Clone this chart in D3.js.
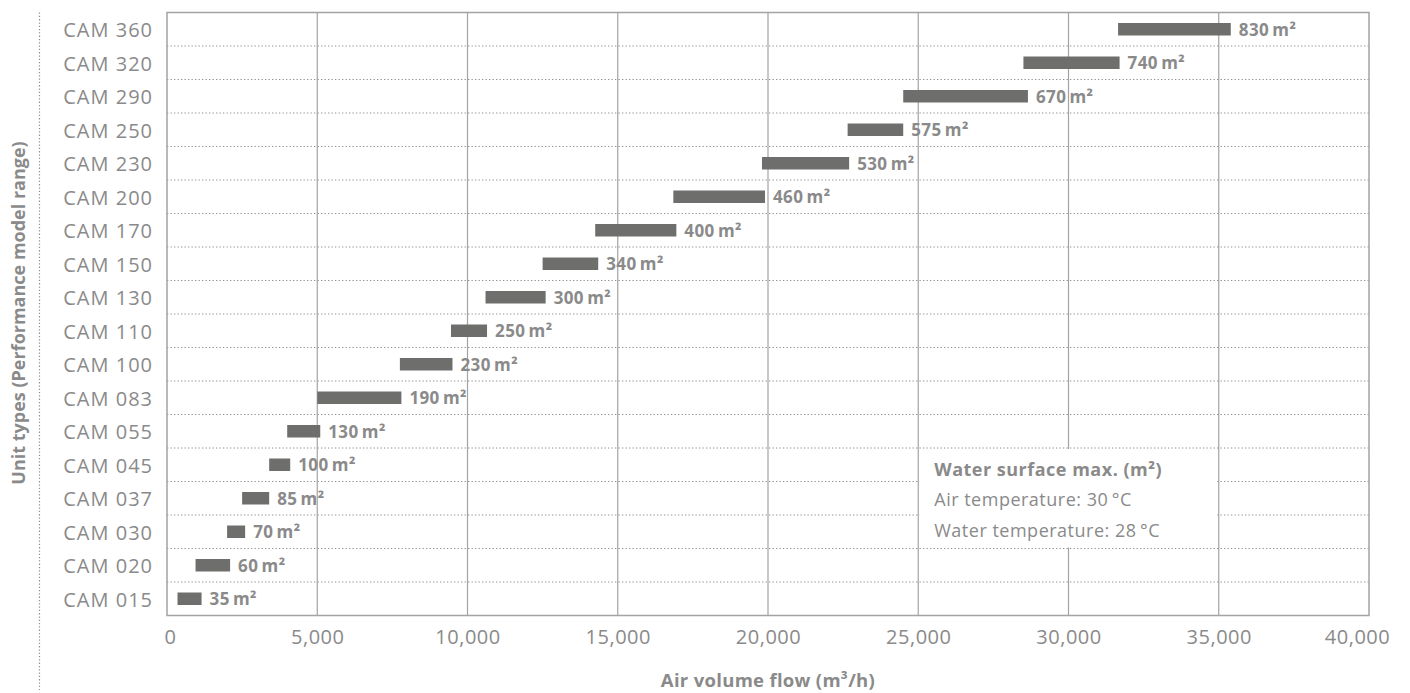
<!DOCTYPE html>
<html>
<head>
<meta charset="utf-8">
<script src="https://cdn.jsdelivr.net/npm/d3@7"></script>
<style>
  body { margin: 0; background: #fff; }
  svg text { font-family: "Open Sans", "Noto Sans", sans-serif; }
</style>
</head>
<body>
<div id="chart"></div>
<script>
// unit types, top to bottom as drawn
var categories = ["CAM 360", "CAM 320", "CAM 290", "CAM 250", "CAM 230", "CAM 200",
  "CAM 170", "CAM 150", "CAM 130", "CAM 110", "CAM 100", "CAM 083",
  "CAM 055", "CAM 045", "CAM 037", "CAM 030", "CAM 020", "CAM 015"];
// air volume flow range (m3/h), start and end of each bar
var flowMin = [31650, 28500, 24500, 22650, 19800, 16850, 14250, 12500, 10600, 9450, 7750, 5000,
  4000, 3400, 2500, 2000, 950, 350];
var flowMax = [35400, 31700, 28650, 24500, 22700, 19900, 16950, 14350, 12600, 10650, 9500, 7800,
  5100, 4100, 3400, 2600, 2100, 1150];
// max water surface (m2)
var surfaces = [830, 740, 670, 575, 530, 460, 400, 340, 300, 250, 230, 190, 130, 100, 85, 70, 60, 35];
var xTicks = [0, 5000, 10000, 15000, 20000, 25000, 30000, 35000, 40000];
var legendLines = ["Water surface max. (m\u00b2)", "Air temperature: 30\u2009\u00b0C", "Water temperature: 28\u2009\u00b0C"];

var data = categories.map(function(c, i) {
  return {cat: c, lo: flowMin[i], hi: flowMax[i], area: surfaces[i]};
});

// set the dimensions and margins of the graph
var margin = {top: 12.5, right: 41, bottom: 77.5, left: 167},
    width = 1410 - margin.left - margin.right,
    height = 693 - margin.top - margin.bottom;

var textGray = "#8a8a8a",
    gridGray = "#a3a3a3",
    barGray = "#6e6e6d";

var root = d3.select("#chart")
  .append("svg")
    .attr("width", 1410)
    .attr("height", 693);

var svg = root.append("g")
    .attr("transform", "translate(" + margin.left + "," + margin.top + ")");

var x = d3.scaleLinear()
  .domain([0, 40000])
  .range([0, width]);

var y = d3.scaleBand()
  .domain(categories)
  .range([0, height]);

var step = y.step();
var barH = 12.5;

// vertical grid lines
svg.append("g")
  .selectAll("line")
  .data(xTicks.slice(1, -1))
  .enter()
  .append("line")
    .attr("x1", function(d) { return x(d); })
    .attr("x2", function(d) { return x(d); })
    .attr("y1", 0)
    .attr("y2", height)
    .style("stroke", gridGray)
    .style("stroke-width", 1.2);

// dotted row separators
svg.append("g")
  .selectAll("line")
  .data(categories.slice(1))
  .enter()
  .append("line")
    .attr("x1", 0)
    .attr("x2", width)
    .attr("y1", function(d) { return y(d); })
    .attr("y2", function(d) { return y(d); })
    .style("stroke", "#8e8e8e")
    .style("stroke-width", 1)
    .style("stroke-dasharray", "1.3,2.2");

// legend box (white, hides grid behind it)
var boxTop = y("CAM 045"), boxBottom = y("CAM 020");
svg.append("rect")
  .attr("x", x(25000) + 1)
  .attr("y", boxTop + 1)
  .attr("width", x(35000) - x(25000) - 2.5)
  .attr("height", boxBottom - boxTop - 2)
  .style("fill", "#fff");

svg.append("g")
  .selectAll("text")
  .data(legendLines)
  .enter()
  .append("text")
    .attr("x", x(25000) + 16)
    .attr("y", function(d, i) { return boxTop + 27.5 + i * 30.5; })
    .style("font-size", "18px")
    .style("letter-spacing", "0.5px")
    .style("font-weight", function(d, i) { return i == 0 ? "700" : "400"; })
    .style("fill", textGray)
    .text(function(d) { return d; });

// plot border
svg.append("rect")
  .attr("width", width)
  .attr("height", height)
  .style("fill", "none")
  .style("stroke", gridGray)
  .style("stroke-width", 1.5);

// bars
svg.append("g")
  .selectAll("rect")
  .data(data)
  .enter()
  .append("rect")
    .attr("x", function(d) { return x(d.lo); })
    .attr("y", function(d) { return y(d.cat) + step / 2 - barH / 2; })
    .attr("width", function(d) { return x(d.hi) - x(d.lo); })
    .attr("height", barH)
    .style("fill", barGray);

// bar labels
svg.append("g")
  .selectAll("text")
  .data(data)
  .enter()
  .append("text")
    .attr("x", function(d) { return x(d.hi) + 8; })
    .attr("y", function(d) { return y(d.cat) + step / 2 + 6.5; })
    .style("font-size", "17px")
    .style("letter-spacing", "0.4px")
    .style("font-weight", "700")
    .style("fill", textGray)
    .text(function(d) { return d.area + "\u2009m\u00b2"; });

// Y axis (category names)
var yAxis = svg.append("g")
  .call(d3.axisLeft(y).tickSize(0).tickPadding(14));
yAxis.select(".domain").remove();
yAxis.selectAll("text")
  .attr("dy", "0.4em")
  .style("font-size", "20px")
  .style("letter-spacing", "1px")
  .style("fill", textGray);

// X axis labels
var xAxis = svg.append("g")
  .attr("transform", "translate(0," + height + ")")
  .call(d3.axisBottom(x).tickValues(xTicks).tickSize(0).tickPadding(14)
    .tickFormat(d3.format(",")));
xAxis.select(".domain").remove();
xAxis.selectAll("text")
  .style("font-size", "20px")
  .style("letter-spacing", "0.5px")
  .style("fill", textGray)
  .attr("dx", function(d) { return d == 0 ? 3 : (d == 40000 ? -12 : 0); });

// axis titles
svg.append("text")
  .attr("x", width / 2)
  .attr("y", height + 71)
  .attr("text-anchor", "middle")
  .style("font-size", "18.5px")
  .style("letter-spacing", "0.3px")
  .style("font-weight", "700")
  .style("fill", textGray)
  .text("Air volume flow (m\u00b3/h)");

root.append("text")
  .attr("transform", "translate(25," + 313 + ") rotate(-90)")
  .attr("text-anchor", "middle")
  .style("font-size", "18px")
  .style("font-weight", "700")
  .style("fill", textGray)
  .text("Unit types (Performance model range)");

// dotted vertical rule left of the category names
root.append("line")
  .attr("x1", 39.5)
  .attr("x2", 39.5)
  .attr("y1", 12.5)
  .attr("y2", 690)
  .style("stroke", "#8e8e8e")
  .style("stroke-width", 1.2)
  .style("stroke-dasharray", "1.3,2");
</script>
</body>
</html>
